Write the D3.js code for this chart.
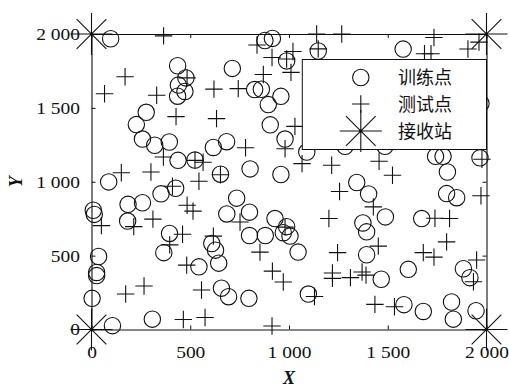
<!DOCTYPE html>
<html>
<head>
<meta charset="utf-8">
<script src="https://cdn.jsdelivr.net/npm/d3@7"></script>
<style>
  html, body { margin: 0; padding: 0; background: #fff; }
  svg { display: block; }
</style>
</head>
<body>
<svg id="chart" width="509" height="388"></svg>
<script>
// Training points (circles)
const trainX = [97,436,478,440,473,436,277,227,258,320,394,438,524,617,684,713,878,916,1148,988,826,860,959,895,905,980,803,959,653,1090,1578,1742,1780,1802,1967,1972,1284,1486,87,9,14,185,258,352,426,183,395,366,36,26,26,3,106,308,544,609,628,644,658,694,797,735,685,800,800,880,929,988,971,1005,1046,1098,1343,1403,1488,1374,1393,1393,1467,1604,1672,1798,1849,1883,1916,1582,1680,1823,1832,1947];
const trainY = [1968,1785,1703,1654,1611,1579,1470,1387,1289,1247,1269,1145,1147,1232,1271,1767,1956,1970,1885,1818,1624,1626,1578,1522,1385,1289,1087,1049,1051,1201,1898,1172,1172,1066,1162,1530,1240,1240,999,807,779,847,858,918,956,734,650,520,494,386,365,211,26,70,424,582,537,449,280,222,211,889,782,794,636,636,751,696,655,632,524,240,995,917,762,721,661,506,340,407,751,920,892,411,351,168,122,186,70,127];

// Test points (plus signs)
const testX = [365,170,66,330,428,484,620,633,364,524,565,151,301,544,653,780,838,1140,1267,914,1020,1148,988,1010,870,743,1030,980,1066,1216,1734,1686,1719,1906,1962,1456,1524,1977,410,484,514,50,214,311,461,396,617,482,266,173,557,465,575,752,853,916,971,1129,914,1256,1202,1246,1220,1220,1311,1370,1390,1427,1452,1739,1813,1798,1680,1734,1972,1950,1934,1435,1534,980];
const testY = [1987,1711,1596,1585,1441,1703,1627,1427,1168,1145,1132,1061,1066,1003,1047,1230,1926,2000,2000,1841,1882,1899,1831,1740,1726,1630,1375,1223,1123,1112,1976,1866,1866,1898,1945,1139,1044,1152,970,841,801,703,696,747,645,573,632,436,294,240,267,68,81,728,524,395,321,223,24,934,751,520,382,346,351,389,368,830,564,753,751,593,520,490,905,470,323,170,154,693];

// Receiving stations (asterisks) at the corners
const stationX = [0, 0, 2000, 2000];
const stationY = [0, 2000, 0, 2000];

const ticks = [0, 500, 1000, 1500, 2000];
const legendLabels = ["训练点", "测试点", "接收站"];

const svg = d3.select("#chart");
const plotL = 91.5, plotR = 486.5, plotT = 34, plotB = 329.5;

const x = d3.scaleLinear().domain([0, 2000]).range([plotL, plotR]);
const y = d3.scaleLinear().domain([0, 2000]).range([plotB, plotT]);

const loc = d3.formatLocale({decimal: ".", thousands: " ", grouping: [3], currency: ["", ""]});
const fmt = loc.format(",");

const INK = "#111";
const R_CIRCLE = 8.2, R_PLUS = 8.7, R_STAR = 21;
const STRETCH = 1.18;

// Axes with inward ticks on all four sides
function styleAxis(g) {
  g.selectAll("path.domain").attr("stroke", INK).attr("stroke-width", 1.1);
  g.selectAll(".tick line").attr("stroke", INK).attr("stroke-width", 1);
}
const axFont = "'Liberation Serif', 'Times New Roman', serif";

const gB = svg.append("g").attr("transform", `translate(0,${plotB})`)
  .call(d3.axisBottom(x).tickValues(ticks).tickSize(-4).tickSizeOuter(0).tickFormat(fmt));
styleAxis(gB);
gB.selectAll(".tick text")
  .attr("y", 28.5).attr("dy", 0)
  .attr("fill", INK).attr("font-family", axFont).attr("font-size", 16.5)
  .attr("transform", `scale(${STRETCH},1)`);

const gL = svg.append("g").attr("transform", `translate(${plotL},0)`)
  .call(d3.axisLeft(y).tickValues(ticks).tickSize(-4).tickSizeOuter(0).tickFormat(fmt));
styleAxis(gL);
gL.selectAll(".tick text")
  .attr("x", -11.5 / STRETCH).attr("dy", "0.33em")
  .attr("fill", INK).attr("font-family", axFont).attr("font-size", 16.5)
  .attr("transform", `scale(${STRETCH},1)`);

const gT = svg.append("g").attr("transform", `translate(0,${plotT})`)
  .call(d3.axisTop(x).tickValues(ticks).tickSize(-4).tickSizeOuter(0).tickFormat(""));
styleAxis(gT);

const gR = svg.append("g").attr("transform", `translate(${plotR},0)`)
  .call(d3.axisRight(y).tickValues(ticks).tickSize(-4).tickSizeOuter(0).tickFormat(""));
styleAxis(gR);

// Axis titles
svg.append("text")
  .attr("x", (plotL + plotR) / 2).attr("y", 384)
  .attr("text-anchor", "middle")
  .attr("font-family", axFont).attr("font-style", "italic").attr("font-weight", "bold")
  .attr("font-size", 18).attr("fill", INK)
  .text("X");

svg.append("text")
  .attr("transform", `translate(21.5,${(plotT + plotB) / 2}) rotate(-90)`)
  .attr("text-anchor", "middle")
  .attr("font-family", axFont).attr("font-style", "italic").attr("font-weight", "bold")
  .attr("font-size", 18).attr("fill", INK)
  .text("Y");

// Marker helpers
function plusPath(cx, cy, r) {
  return `M${cx - r},${cy}H${cx + r}M${cx},${cy - r}V${cy + r}`;
}
function starPath(cx, cy, r) {
  const d = r * Math.SQRT1_2;
  return plusPath(cx, cy, r) +
    `M${cx - d},${cy - d}L${cx + d},${cy + d}M${cx - d},${cy + d}L${cx + d},${cy - d}`;
}

const marks = svg.append("g");

marks.selectAll("circle.train")
  .data(d3.range(trainX.length))
  .join("circle")
  .attr("class", "train")
  .attr("cx", i => x(trainX[i]))
  .attr("cy", i => y(trainY[i]))
  .attr("r", R_CIRCLE)
  .attr("fill", "none").attr("stroke", INK).attr("stroke-width", 1.1);

marks.selectAll("path.test")
  .data(d3.range(testX.length))
  .join("path")
  .attr("class", "test")
  .attr("d", i => plusPath(x(testX[i]), y(testY[i]), R_PLUS))
  .attr("fill", "none").attr("stroke", INK).attr("stroke-width", 1.1);

// Legend (opaque box in the upper right)
const lg = svg.append("g");
lg.append("rect")
  .attr("x", 302.3).attr("y", 59.5).attr("width", plotR - 302.3).attr("height", 90)
  .attr("fill", "#fff").attr("stroke", INK).attr("stroke-width", 1);

const lx = 360.8, rows = [77.5, 104, 131];
lg.append("circle").attr("cx", lx).attr("cy", rows[0]).attr("r", R_CIRCLE)
  .attr("fill", "none").attr("stroke", INK).attr("stroke-width", 1.1);
lg.append("path").attr("d", plusPath(lx, rows[1], R_PLUS))
  .attr("fill", "none").attr("stroke", INK).attr("stroke-width", 1.1);
lg.append("path").attr("d", starPath(lx, rows[2], R_STAR))
  .attr("fill", "none").attr("stroke", INK).attr("stroke-width", 1.1);
lg.append("circle").attr("cx", lx).attr("cy", rows[2]).attr("r", 1.6).attr("fill", INK);

lg.selectAll("text.lab")
  .data(legendLabels)
  .join("text")
  .attr("class", "lab")
  .attr("x", 398)
  .attr("y", (d, i) => rows[i] + 6.5)
  .attr("font-family", "'Noto Sans CJK SC', 'Noto Sans CJK JP', sans-serif")
  .attr("font-size", 18).attr("fill", INK)
  .text(d => d);

// Stations drawn last so they sit over the frame
svg.append("g").selectAll("path.station")
  .data(d3.range(stationX.length))
  .join("path")
  .attr("class", "station")
  .attr("d", i => starPath(x(stationX[i]), y(stationY[i]), R_STAR))
  .attr("fill", "none").attr("stroke", INK).attr("stroke-width", 1.1);
</script>
</body>
</html>
